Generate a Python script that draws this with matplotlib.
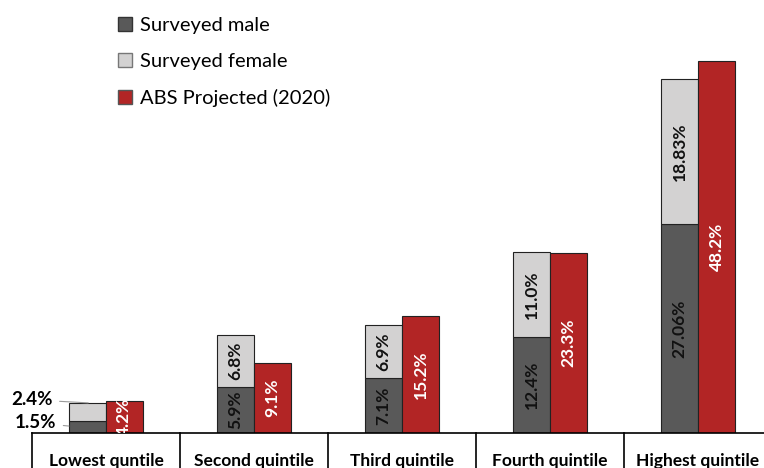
import numpy as np
import matplotlib.pyplot as plt
from matplotlib.patches import Patch

plt.rcParams['font.family'] = ['Lato', 'DejaVu Sans']

# income quintile shares (%)
categories = ['Lowest quntile', 'Second quintile', 'Third quintile',
              'Fourth quintile', 'Highest quintile']
male = [1.5, 5.9, 7.1, 12.4, 27.06]
female = [2.4, 6.8, 6.9, 11.0, 18.83]
abs_proj = [4.2, 9.1, 15.2, 23.3, 48.2]
male_lbl = ['1.5%', '5.9%', '7.1%', '12.4%', '27.06%']
female_lbl = ['2.4%', '6.8%', '6.9%', '11.0%', '18.83%']
abs_lbl = ['4.2%', '9.1%', '15.2%', '23.3%', '48.2%']

c_male = '#595959'
c_female = '#d3d2d2'
c_red = '#b22525'

fig = plt.figure(figsize=(7.64, 4.68), dpi=100)
ax = fig.add_axes([33 / 764, 35 / 468, 731 / 764, 386 / 468])

x = np.arange(len(categories))
w = 0.25
ax.bar(x - w / 2, male, w, color=c_male, edgecolor='#222222', linewidth=0.8)
ax.bar(x - w / 2, female, w, bottom=male, color=c_female,
       edgecolor='#222222', linewidth=0.8)
ax.bar(x + w / 2, abs_proj, w, color=c_red, edgecolor='#222222', linewidth=0.8)

ax.set_xlim(-0.493, 4.446)
ax.set_ylim(0, 50)
ax.axis('off')

# value labels inside bars (skip the small lowest-quintile survey bars)
fs = 12.5
for i in range(len(categories)):
    if i > 0:
        ax.text(x[i] - w / 2, male[i] / 2, male_lbl[i], rotation=90,
                ha='center', va='center', fontsize=fs, fontweight='bold',
                color='#111111')
        ax.text(x[i] - w / 2, male[i] + female[i] / 2, female_lbl[i],
                rotation=90, ha='center', va='center', fontsize=fs,
                fontweight='bold', color='#111111')
    ax.text(x[i] + w / 2, abs_proj[i] / 2, abs_lbl[i], rotation=90,
            ha='center', va='center', fontsize=fs, fontweight='bold',
            color='white', clip_on=True)

# callouts for the lowest quintile survey bars
ax.annotate(female_lbl[0], xy=(-0.12, male[0] + female[0]),
            xytext=(-0.36, 4.3), ha='right', va='center', fontsize=13.5,
            fontweight='bold', annotation_clip=False,
            arrowprops=dict(arrowstyle='-', color='#999999', lw=0.8,
                            shrinkA=3, shrinkB=0))
ax.annotate(male_lbl[0], xy=(-w, 0.9),
            xytext=(-0.335, 1.3), ha='right', va='center', fontsize=13.5,
            fontweight='bold', annotation_clip=False,
            arrowprops=dict(arrowstyle='-', color='#999999', lw=0.8,
                            shrinkA=3, shrinkB=0))

# category table below the bars
ax.plot([-0.5, 4.6], [0, 0], color='black', lw=1.2, clip_on=False)
for b in np.arange(-0.5, 5.0, 1.0):
    ax.plot([b, b], [0, -5], color='black', lw=1.2, clip_on=False)
for i, cat in enumerate(categories):
    ax.text(x[i], -3.6, cat, ha='center', va='center', fontsize=12.5,
            fontweight='bold', clip_on=False)

handles = [Patch(facecolor=c_male, edgecolor='#333333'),
           Patch(facecolor=c_female, edgecolor='#777777'),
           Patch(facecolor=c_red, edgecolor='#555555')]
fig.legend(handles, ['Surveyed male', 'Surveyed female', 'ABS Projected (2020)'],
           loc='upper left', bbox_to_anchor=(100 / 764, 1.003), frameon=False,
           fontsize=14.5, handlelength=0.7, handleheight=0.7,
           handletextpad=0.4, labelspacing=0.95)

fig.savefig('out.png', dpi=100)
